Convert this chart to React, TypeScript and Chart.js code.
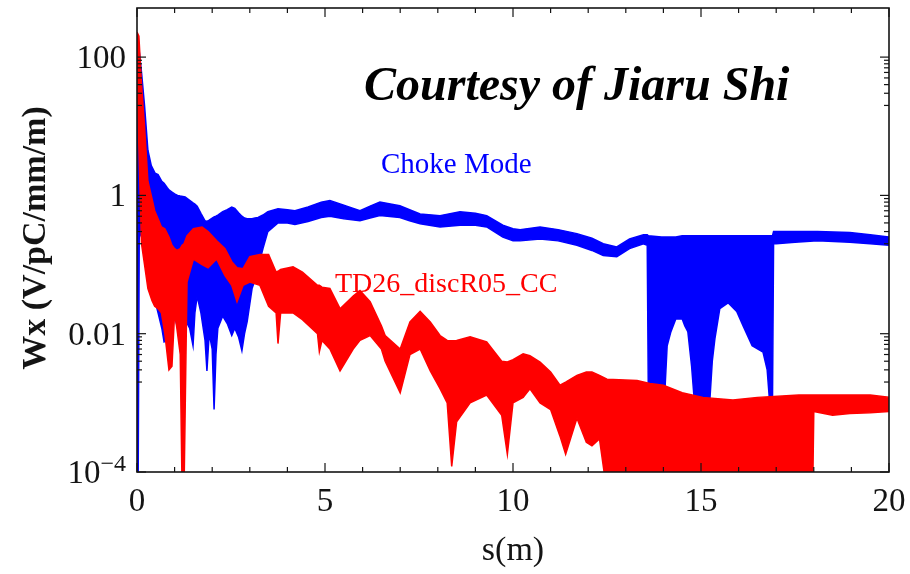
import React, { useEffect, useRef } from 'react';
import { Chart, registerables } from 'chart.js';

Chart.register(...registerables);

// ---- Data ----
// Choke Mode: envelope of the oscillating wake (upper / lower bound at each s)
const chokeS = [0, 0.03, 0.06, 0.12, 0.2, 0.29, 0.38, 0.48, 0.56, 0.66, 0.72, 0.8, 0.85, 0.93, 1.0, 1.08, 1.15, 1.28, 1.4, 1.49, 1.54, 1.6, 1.7, 1.81, 1.86, 1.92, 2.0, 2.05, 2.1, 2.15, 2.28, 2.4, 2.52, 2.6, 2.7, 2.79, 2.86, 2.93, 3.06, 3.14, 3.22, 3.35, 3.48, 3.75, 4.0, 4.2, 4.55, 4.9, 5.13, 5.5, 5.93, 6.2, 6.46, 6.99, 7.25, 7.53, 8.06, 8.59, 9.0, 9.3, 9.73, 10.0, 10.19, 10.72, 11.2, 11.7, 12.1, 12.4, 12.76, 13.1, 13.47, 13.57, 13.6, 13.95, 14.04, 14.1, 14.2, 14.33, 14.5, 14.57, 14.65, 14.75, 14.84, 15.22, 15.3, 15.37, 15.5, 15.72, 15.95, 16.12, 16.36, 16.65, 16.76, 16.84, 16.9, 16.93, 17.0, 17.5, 18.1, 18.96, 19.5, 20.0];
const chokeUpper = [150, 140, 120, 60, 20, 4.5, 2.7, 2.1, 2.0, 1.6, 1.5, 1.3, 1.2, 1.12, 1.05, 1.0, 0.98, 0.95, 0.85, 0.78, 0.75, 0.7, 0.55, 0.43, 0.42, 0.44, 0.47, 0.49, 0.5, 0.52, 0.58, 0.62, 0.68, 0.65, 0.56, 0.5, 0.47, 0.46, 0.46, 0.47, 0.48, 0.52, 0.58, 0.64, 0.62, 0.6, 0.68, 0.8, 0.84, 0.72, 0.6, 0.7, 0.8, 0.71, 0.62, 0.54, 0.51, 0.58, 0.55, 0.51, 0.37, 0.33, 0.32, 0.35, 0.32, 0.28, 0.24, 0.2, 0.18, 0.235, 0.27, 0.27, 0.26, 0.25, 0.25, 0.25, 0.25, 0.25, 0.26, 0.26, 0.26, 0.26, 0.26, 0.26, 0.26, 0.26, 0.26, 0.26, 0.26, 0.26, 0.26, 0.26, 0.26, 0.26, 0.26, 0.3, 0.3, 0.3, 0.3, 0.29, 0.27, 0.25];
const chokeLower = [0.00005, 0.00005, 0.3, 0.25, 0.2, 0.1, 0.05, 0.03, 0.02, 0.012, 0.0076, 0.008, 0.02, 0.018, 0.018, 0.012, 0.02, 0.016, 0.012, 0.0067, 0.02, 0.035, 0.02, 0.008, 0.0029, 0.01, 0.006, 0.0008, 0.005, 0.012, 0.018, 0.014, 0.0094, 0.012, 0.009, 0.0057, 0.01, 0.015, 0.045, 0.06, 0.09, 0.17, 0.3, 0.4, 0.4, 0.38, 0.42, 0.48, 0.5, 0.46, 0.43, 0.47, 0.51, 0.48, 0.43, 0.39, 0.35, 0.37, 0.37, 0.35, 0.25, 0.22, 0.22, 0.235, 0.22, 0.19, 0.16, 0.135, 0.13, 0.17, 0.2, 0.19, 0.0012, 0.0012, 0.0015, 0.0067, 0.0107, 0.0163, 0.0163, 0.013, 0.0107, 0.0034, 0.0008, 0.0008, 0.004, 0.0085, 0.023, 0.028, 0.021, 0.013, 0.0067, 0.0054, 0.003, 0.0008, 0.0008, 0.2, 0.2, 0.21, 0.22, 0.21, 0.2, 0.19];

// TD26_discR05_CC: envelope of the oscillating wake
const tdS = [0, 0.05, 0.12, 0.2, 0.29, 0.4, 0.47, 0.56, 0.65, 0.74, 0.85, 0.93, 1.0, 1.06, 1.15, 1.2, 1.25, 1.33, 1.5, 1.73, 1.89, 2.12, 2.34, 2.52, 2.66, 2.82, 3.0, 3.27, 3.5, 3.7, 3.75, 3.82, 4.15, 4.4, 4.8, 4.85, 4.92, 5.13, 5.4, 5.75, 5.93, 6.2, 6.5, 6.6, 7.0, 7.26, 7.53, 7.8, 8.06, 8.25, 8.37, 8.5, 8.86, 9.3, 9.7, 9.85, 10.0, 10.27, 10.45, 10.72, 11.0, 11.25, 11.4, 11.7, 11.95, 12.1, 12.3, 12.5, 13.3, 13.64, 14.0, 14.5, 15.05, 15.85, 16.5, 17.6, 17.97, 18.0, 18.5, 18.96, 19.5, 20.0];
const tdUpper = [230, 200, 40, 10, 1.6, 0.89, 0.6, 0.46, 0.35, 0.33, 0.25, 0.19, 0.17, 0.16, 0.17, 0.19, 0.2, 0.26, 0.33, 0.35, 0.3, 0.22, 0.17, 0.11, 0.09, 0.087, 0.13, 0.14, 0.14, 0.078, 0.08, 0.085, 0.093, 0.078, 0.05, 0.05, 0.047, 0.045, 0.023, 0.035, 0.042, 0.029, 0.013, 0.0094, 0.006, 0.0148, 0.021, 0.0148, 0.0094, 0.008, 0.0079, 0.008, 0.009, 0.0076, 0.004, 0.0039, 0.0042, 0.0051, 0.0048, 0.0039, 0.0028, 0.0018, 0.002, 0.0025, 0.0028, 0.0028, 0.0025, 0.0022, 0.0021, 0.0019, 0.0018, 0.0014, 0.0012, 0.0011, 0.0012, 0.0013, 0.0013, 0.0013, 0.0013, 0.0013, 0.0013, 0.0012];
const tdLower = [40, 5, 0.2, 0.1, 0.045, 0.03, 0.025, 0.023, 0.02, 0.01, 0.003, 0.0034, 0.02, 0.012, 0.005, 0.00005, 0.00005, 0.056, 0.12, 0.1, 0.09, 0.12, 0.069, 0.05, 0.029, 0.05, 0.056, 0.05, 0.025, 0.02, 0.0072, 0.02, 0.02, 0.016, 0.01, 0.0055, 0.008, 0.006, 0.0029, 0.006, 0.008, 0.0094, 0.006, 0.004, 0.0014, 0.005, 0.006, 0.0029, 0.0016, 0.001, 0.00012, 0.00053, 0.001, 0.0013, 0.00066, 0.00018, 0.001, 0.0012, 0.0016, 0.001, 0.0008, 0.00033, 0.00018, 0.0006, 0.00027, 0.00024, 0.0003, 0.00005, 0.00005, 0.00005, 0.00005, 0.00005, 0.00005, 0.00005, 0.00005, 0.00005, 0.00005, 0.00075, 0.00066, 0.0007, 0.00072, 0.00075];

// Axes
const xMin = 0;
const xMax = 20;
const yMin = 1e-4;
const yMax = 513;
const xMajorTicks = [0, 5, 10, 15, 20];
const xMajorLabels = ['0', '5', '10', '15', '20'];
const xMinorTicks = [1, 2, 3, 4, 6, 7, 8, 9, 11, 12, 13, 14, 16, 17, 18, 19];
const yMajorTicks = [100, 1, 0.01, 1e-4];
const yMajorLabels = ['100', '1', '0.01', ''];
const yMinorTicks = [20, 30, 40, 50, 60, 70, 80, 90, 0.2, 0.3, 0.4, 0.5, 0.6, 0.7, 0.8, 0.9, 0.002, 0.003, 0.004, 0.005, 0.006, 0.007, 0.008, 0.009];

const BLUE = '#0000ff';
const RED = '#ff0000';
const INK = '#141414';
const SERIF = '"Liberation Serif", "Times New Roman", serif';

const decorPlugin = {
  id: 'decor',
  afterDraw(chart: any) {
    const { ctx, chartArea: a, scales } = chart;
    const xs = scales.x;
    const ys = scales.y;
    ctx.save();
    ctx.strokeStyle = INK;
    ctx.lineWidth = 1.6;
    ctx.strokeRect(a.left, a.top, a.right - a.left, a.bottom - a.top);

    const seg = (x1: number, y1: number, x2: number, y2: number) => {
      ctx.beginPath();
      ctx.moveTo(x1, y1);
      ctx.lineTo(x2, y2);
      ctx.stroke();
    };
    ctx.lineWidth = 1.2;
    xMajorTicks.forEach((v) => {
      const px = xs.getPixelForValue(v);
      seg(px, a.bottom, px, a.bottom - 9);
      seg(px, a.top, px, a.top + 9);
    });
    xMinorTicks.forEach((v) => {
      const px = xs.getPixelForValue(v);
      seg(px, a.bottom, px, a.bottom - 5);
      seg(px, a.top, px, a.top + 5);
    });
    yMajorTicks.forEach((v) => {
      const py = ys.getPixelForValue(v);
      seg(a.left, py, a.left + 9, py);
      seg(a.right, py, a.right - 9, py);
    });
    yMinorTicks.forEach((v) => {
      const py = ys.getPixelForValue(v);
      seg(a.left, py, a.left + 5, py);
      seg(a.right, py, a.right - 5, py);
    });

    // tick labels
    ctx.fillStyle = INK;
    ctx.font = `33px ${SERIF}`;
    ctx.textBaseline = 'alphabetic';
    ctx.textAlign = 'right';
    yMajorTicks.forEach((v, i) => {
      const py = ys.getPixelForValue(v);
      if (yMajorLabels[i]) ctx.fillText(yMajorLabels[i], a.left - 11, py + 11);
    });
    // 10^-4 with superscript
    {
      const py = ys.getPixelForValue(1e-4);
      ctx.font = `24px ${SERIF}`;
      const supW = ctx.measureText('\u22124').width;
      ctx.textAlign = 'left';
      const supX = a.left - 11 - supW;
      ctx.fillText('\u22124', supX, py - 1);
      ctx.font = `33px ${SERIF}`;
      ctx.textAlign = 'right';
      ctx.fillText('10', supX, py + 11);
    }
    ctx.textAlign = 'center';
    xMajorTicks.forEach((v, i) => {
      const px = xs.getPixelForValue(v);
      ctx.fillText(xMajorLabels[i], px, a.bottom + 39);
    });

    // axis titles
    ctx.font = `34px ${SERIF}`;
    ctx.fillText('s(m)', (a.left + a.right) / 2, 560);
    ctx.save();
    ctx.translate(45, 238);
    ctx.rotate(-Math.PI / 2);
    ctx.font = `bold 34px ${SERIF}`;
    ctx.textAlign = 'center';
    ctx.fillText('Wx (V/pC/mm/m)', 0, 0);
    ctx.restore();

    // annotations
    ctx.textAlign = 'left';
    ctx.font = `italic bold 48px ${SERIF}`;
    ctx.fillStyle = '#000';
    ctx.fillText('Courtesy of Jiaru Shi', 364, 100);
    ctx.font = `29px ${SERIF}`;
    ctx.fillStyle = BLUE;
    ctx.fillText('Choke Mode', 381, 173);
    ctx.font = `28px ${SERIF}`;
    ctx.fillStyle = RED;
    ctx.fillText('TD26_discR05_CC', 335, 292);
    ctx.restore();
  },
};

export default function App() {
  const ref = useRef<HTMLCanvasElement | null>(null);
  useEffect(() => {
    if (!ref.current) return;
    const pts = (xs: number[], ys: number[]) => xs.map((x, i) => ({ x, y: ys[i] }));
    const chart = new Chart(ref.current, {
      type: 'line',
      data: {
        datasets: [
          { label: 'TD26 upper', data: pts(tdS, tdUpper), borderColor: RED, backgroundColor: RED, borderWidth: 1.5, fill: '+1' },
          { label: 'TD26 lower', data: pts(tdS, tdLower), borderColor: RED, backgroundColor: RED, borderWidth: 1.5, fill: false },
          { label: 'Choke upper', data: pts(chokeS, chokeUpper), borderColor: BLUE, backgroundColor: BLUE, borderWidth: 1.5, fill: '+1' },
          { label: 'Choke lower', data: pts(chokeS, chokeLower), borderColor: BLUE, backgroundColor: BLUE, borderWidth: 1.5, fill: false },
        ],
      },
      options: {
        responsive: false,
        animation: false,
        devicePixelRatio: 1,
        layout: { padding: { top: 8, right: 21, left: 0, bottom: 0 } },
        plugins: { legend: { display: false }, tooltip: { enabled: false } },
        elements: { point: { radius: 0 }, line: { tension: 0 } },
        scales: {
          x: {
            type: 'linear',
            min: xMin,
            max: xMax,
            grid: { display: false },
            border: { display: false },
            ticks: { display: false },
            afterFit: (s: any) => { s.height = 102; },
          },
          y: {
            type: 'logarithmic',
            min: yMin,
            max: yMax,
            grid: { display: false },
            border: { display: false },
            ticks: { display: false },
            afterFit: (s: any) => { s.width = 137; },
          },
        },
      },
      plugins: [decorPlugin],
    } as any);
    return () => chart.destroy();
  }, []);
  return (
    <div style={{ position: 'absolute', left: 0, top: 0, width: 910, height: 574, background: '#fff' }}>
      <canvas ref={ref} width={910} height={574} style={{ display: 'block' }} />
    </div>
  );
}
